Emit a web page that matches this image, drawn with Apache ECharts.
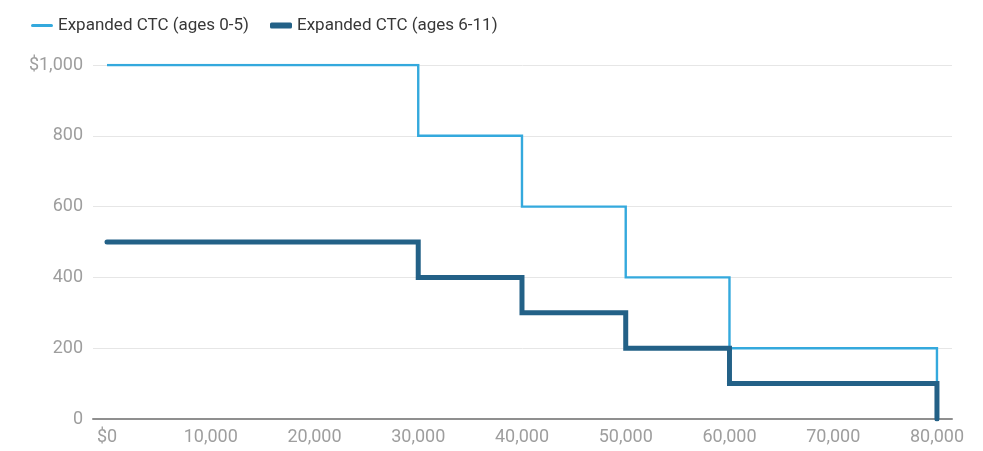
<!DOCTYPE html>
<html>
<head>
<meta charset="utf-8">
<script src="https://cdn.jsdelivr.net/npm/echarts@6/dist/echarts.min.js"></script>
<style>
  html, body { margin: 0; padding: 0; background: #fff; }
  #chart { width: 983px; height: 451px; }
</style>
</head>
<body>
<div id="chart"></div>
<script>
// Income thresholds where the credit steps down (USD)
const incomeSteps = [0, 30000, 40000, 50000, 60000, 80000];
// Credit amount at each threshold
const creditAges0to5 = [1000, 800, 600, 400, 200, 0];
const creditAges6to11 = [500, 400, 300, 200, 100, 0];
const seriesNames = ['Expanded CTC (ages 0-5)', 'Expanded CTC (ages 6-11)'];
const xTickValues = [0, 10000, 20000, 30000, 40000, 50000, 60000, 70000, 80000];

const fmt = v => v.toLocaleString('en-US');
const pairs = ys => incomeSteps.map((x, i) => [x, ys[i]]);

const labelColor = '#9e9e9e';
const font = 'Roboto, "Noto Sans", sans-serif';
const lightBlue = '#34a9dd';
const darkBlue = '#236187';

const chart = echarts.init(document.getElementById('chart'));
chart.setOption({
  animation: false,
  textStyle: { fontFamily: font },
  legend: [
    {
      left: 26, top: 12,
      data: [{ name: seriesNames[0], icon: 'path://M1.5,0 L20.5,0 A1.5,1.5 0 0 1 20.5,3 L1.5,3 A1.5,1.5 0 0 1 1.5,0 Z' }],
      itemWidth: 22, itemHeight: 3, itemGap: 10,
      textStyle: { color: '#383838', fontSize: 17, fontFamily: font }
    },
    {
      left: 265, top: 12,
      data: [{ name: seriesNames[1], icon: 'roundRect' }],
      itemWidth: 22, itemHeight: 6,
      textStyle: { color: '#383838', fontSize: 17, fontFamily: font }
    }
  ],
  grid: { left: 93, right: 31, top: 65, bottom: 32, containLabel: false },
  xAxis: {
    type: 'value',
    min: -1350,
    max: 81450,
    axisLine: { show: true, lineStyle: { color: '#8f8f8f', width: 2 } },
    axisTick: { show: false },
    splitLine: { show: false },
    axisLabel: {
      customValues: xTickValues,
      color: labelColor, fontSize: 18, fontFamily: font, margin: 9,
      formatter: v => (v === 0 ? '$0' : fmt(v))
    }
  },
  yAxis: {
    type: 'value',
    min: 0, max: 1000, interval: 200,
    axisLine: { show: false },
    axisTick: { show: false },
    splitLine: { lineStyle: { color: '#e6e6e6', width: 1 } },
    axisLabel: {
      color: labelColor, fontSize: 18, fontFamily: font, margin: 10,
      formatter: v => (v === 1000 ? '$' + fmt(v) : fmt(v))
    }
  },
  series: [
    {
      name: seriesNames[0],
      type: 'line',
      step: 'end',
      data: pairs(creditAges0to5),
      showSymbol: false,
      symbol: 'none',
      color: lightBlue,
      lineStyle: { color: lightBlue, width: 2.4, cap: 'butt', join: 'miter' },
      z: 2
    },
    {
      name: seriesNames[1],
      type: 'line',
      step: 'end',
      data: pairs(creditAges6to11),
      showSymbol: false,
      symbol: 'none',
      color: darkBlue,
      lineStyle: { color: darkBlue, width: 5, cap: 'round', join: 'miter' },
      z: 3
    }
  ]
});
</script>
</body>
</html>
